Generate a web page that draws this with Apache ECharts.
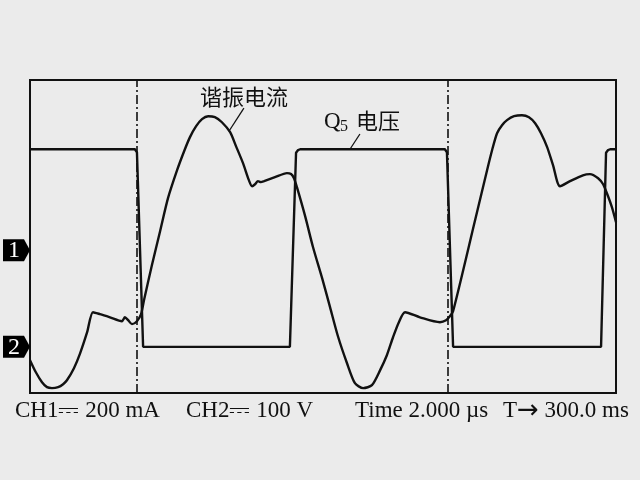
<!DOCTYPE html>
<html><head><meta charset="utf-8">
<script src="https://cdn.jsdelivr.net/npm/echarts@6/dist/echarts.min.js"></script>
<style>html,body{margin:0;padding:0;background:#ebebeb}#c{width:640px;height:480px}</style>
</head><body><div id="c"></div>
<script>
// CH1: resonant current (mA) vs time (µs)
const currentTimeUs = [0,0.20,0.41,0.58,0.75,0.96,1.13,1.26,1.50,1.71,1.95,2.15,2.39,2.73,3.14,3.24,3.35,3.48,3.65,3.79,
  3.89,4.16,4.44,4.71,5.02,5.26,5.46,5.67,5.87,6.08,6.31,6.55,6.83,7.03,7.27,7.47,7.58,7.68,7.78,7.88,7.99,8.36,8.77,8.91,9.01,
  9.11,9.39,9.66,9.97,10.24,10.51,10.82,11.09,11.37,11.67,11.95,12.18,12.39,12.59,12.80,13.31,13.99,14.20,14.33,14.44,
  15.19,15.60,15.77,15.94,16.11,16.28,16.52,16.79,17.03,17.24,17.44,17.65,17.85,18.09,18.43,18.87,19.11,19.39,19.56,19.69,19.86,20.0];
const currentMA = [-562,-624,-675,-700,-705,-700,-685,-665,-603,-527,-419,-317,-327,-343,-363,-343,-358,-378,-363,-327,
  -256,-77,97,266,409,506,578,634,670,685,680,654,603,532,445,358,327,337,353,348,353,373,394,389,368,
  322,174,15,-143,-291,-440,-578,-680,-705,-690,-613,-537,-445,-368,-317,-343,-368,-358,-337,-312,
  153,409,511,598,639,665,685,690,680,649,598,527,435,327,353,383,389,368,337,291,220,143];
// CH2: Q5 voltage (V) vs time (µs)
const voltageTimeUs = [0,3.58,3.62,3.65,3.86,8.87,9.08,9.15,9.22,14.16,14.20,14.23,14.44,19.49,19.66,19.73,19.80,20.0];
const voltageV = [505,505,502,497,0,0,496,503,505,505,502,497,0,0,496,503,505,505];
// cursor (dash-dot) positions, µs
const cursorTimesUs = [3.65, 14.27];
// channel ground markers
const channelNames = ['1','2'];
const channelZero = [0, 0];
// texts
const currentLabel = '谐振电流';
const voltageLabelMain = 'Q';
const voltageLabelSub = '5';
const voltageLabelCjk = '电压';
const footerParts = [['CH1', '⎓', ' 200 mA'], ['CH2', '⎓', ' 100 V'], ['Time 2.000 µs', '', ''], ['T', '→', ' 300.0 ms']];

const chart = echarts.init(document.getElementById('c'), null, {renderer: 'canvas'});
const pairs = (xs, ys) => xs.map((x, i) => [x, ys[i]]);
const ink = '#111';
const serif = "'Liberation Serif','Times New Roman',serif";
const cjk = "'Noto Sans CJK SC','Noto Sans',sans-serif";

chart.setOption({
  backgroundColor: '#ebebeb',
  animation: false,
  grid: {left: 30, right: 24, top: 80, bottom: 87, show: true, borderColor: ink, borderWidth: 2, backgroundColor: 'transparent'},
  xAxis: {type: 'value', min: 0, max: 20, show: false},
  yAxis: [
    {type: 'value', min: -730, max: 870, show: false},
    {type: 'value', min: -118, max: 682, show: false}
  ],
  series: [
    {type: 'line', yAxisIndex: 0, data: pairs(currentTimeUs, currentMA), showSymbol: false, smooth: 0.25,
     lineStyle: {color: ink, width: 2.4}, clip: true,
     markLine: {silent: true, symbol: 'none', label: {show: false},
       lineStyle: {color: ink, width: 1.6, type: [9, 3, 2, 3]},
       data: cursorTimesUs.map(t => ({xAxis: t}))}},
    {type: 'line', yAxisIndex: 1, data: pairs(voltageTimeUs, voltageV), showSymbol: false, smooth: false,
     lineStyle: {color: ink, width: 2.4}, clip: true}
  ]
});

const p1 = (x, y) => chart.convertToPixel({xAxisIndex: 0, yAxisIndex: 0}, [x, y]);
const p2 = (x, y) => chart.convertToPixel({xAxisIndex: 0, yAxisIndex: 1}, [x, y]);
const g = [];
// channel ground markers
const zeroPix = [p1(0, channelZero[0])[1], p2(0, channelZero[1])[1]];
channelNames.forEach((n, i) => {
  const y = zeroPix[i];
  g.push({type: 'polygon', shape: {points: [[3, y - 11], [24, y - 11], [30, y], [24, y + 11], [3, y + 11]]}, style: {fill: '#000'}});
  g.push({type: 'text', x: 14, y: y + 1, style: {text: n, fill: '#fff', font: `24px ${serif}`, textAlign: 'center', textVerticalAlign: 'middle'}});
});
// current label with leader
const cA = p1(6.79, 608), cB = p1(7.30, 726);
g.push({type: 'line', shape: {x1: cA[0], y1: cA[1], x2: cB[0], y2: cB[1]}, style: {stroke: ink, lineWidth: 1.3}});
g.push({type: 'text', x: cB[0], y: cB[1] - 12, style: {text: currentLabel, fill: ink, font: `22px ${cjk}`, textAlign: 'center', textVerticalAlign: 'middle'}});
// voltage label with leader
const vA = p2(10.92, 505), vB = p2(11.26, 544);
g.push({type: 'line', shape: {x1: vA[0], y1: vA[1], x2: vB[0], y2: vB[1]}, style: {stroke: ink, lineWidth: 1.3}});
g.push({type: 'text', x: vB[0] - 36, y: vB[1] - 12, style: {text: voltageLabelMain, fill: ink, font: `23px ${serif}`, textAlign: 'left', textVerticalAlign: 'middle'}});
g.push({type: 'text', x: vB[0] - 20, y: vB[1] - 7, style: {text: voltageLabelSub, fill: ink, font: `16px ${serif}`, textAlign: 'left', textVerticalAlign: 'middle'}});
g.push({type: 'text', x: vB[0] - 4, y: vB[1] - 13, style: {text: voltageLabelCjk, fill: ink, font: `22px ${cjk}`, textAlign: 'left', textVerticalAlign: 'middle'}});
// footer
const footerX = [15, 186, 355, 503];
footerParts.forEach((parts, i) => {
  const txt = `{a|${parts[0]}}` + (parts[1] ? `{s|${parts[1]}}` : '') + (parts[2] ? `{a|${parts[2]}}` : '');
  g.push({type: 'text', x: footerX[i], y: 411, style: {text: txt, fill: ink, textAlign: 'left', textVerticalAlign: 'middle',
    rich: {a: {fontFamily: serif, fontSize: 23, fill: ink, color: ink},
           s: {fontFamily: "'DejaVu Sans',sans-serif", fontSize: 26, fill: ink, color: ink}}}});
});
chart.setOption({graphic: g});
</script></body></html>
